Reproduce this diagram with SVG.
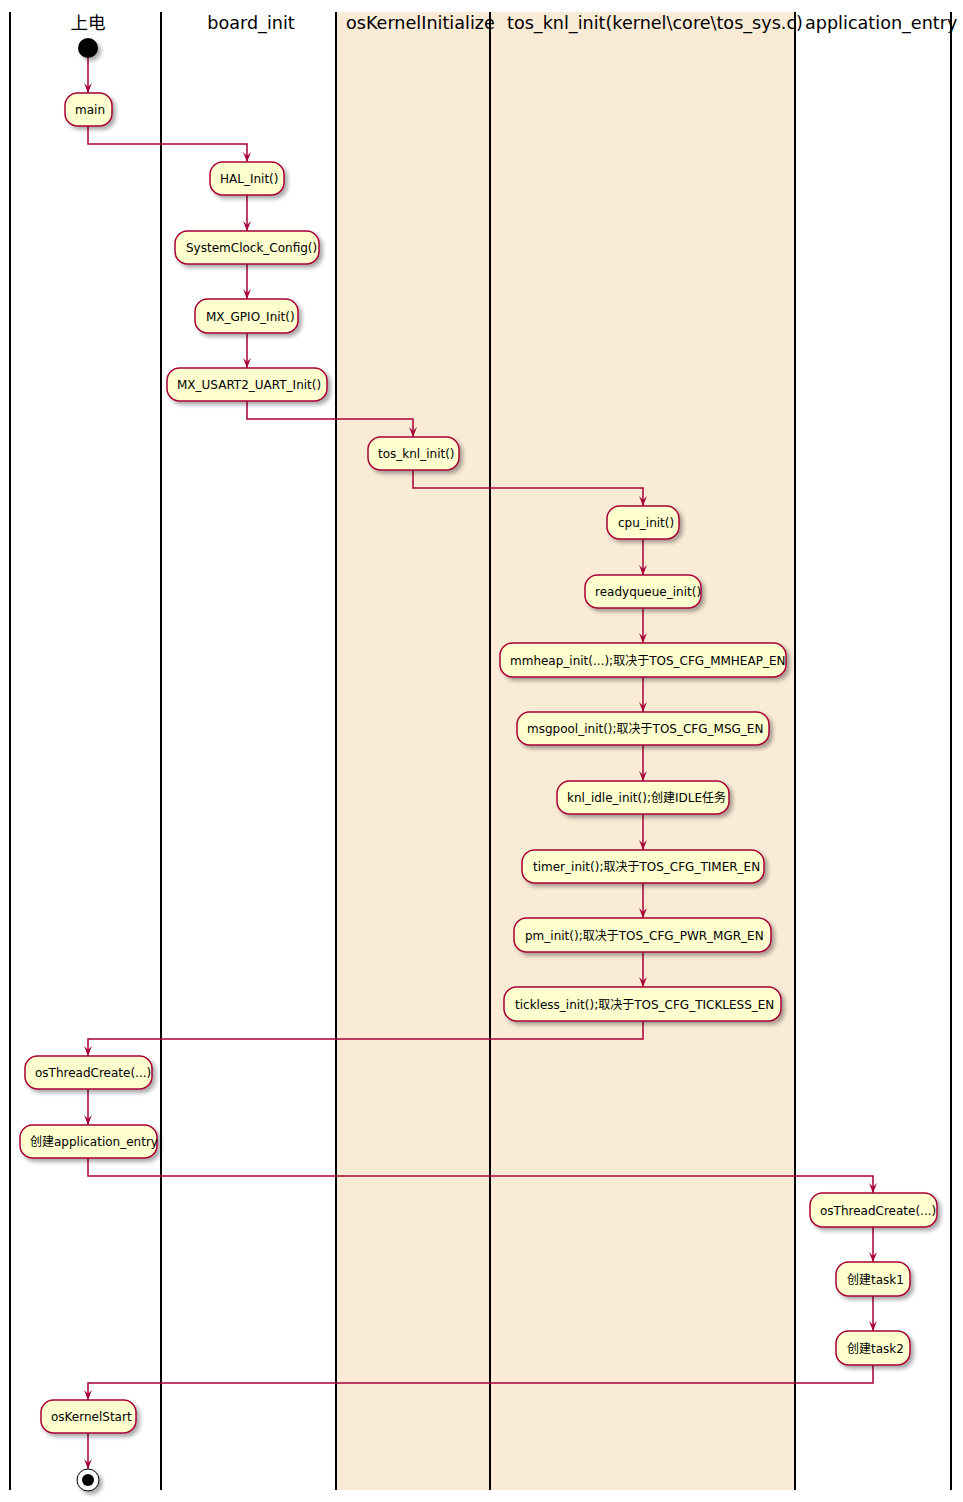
<svg xmlns="http://www.w3.org/2000/svg" width="963" height="1502" viewBox="0 0 963 1502">
<style>
.lane{stroke:#000;stroke-width:2;fill:none}
.title{font-family:"DejaVu Sans","Noto Sans CJK SC",sans-serif;font-size:17.6px;fill:#000}
.box{fill:#FEFECE;stroke:#A80036;stroke-width:1.5;filter:url(#sh)}
.lbl{font-family:"DejaVu Sans","Noto Sans CJK SC",sans-serif;font-size:12px;fill:#000}
.cn{stroke:#A80036;stroke-width:1.5;fill:none}
</style>
<defs>
<filter id="sh" x="-20%" y="-30%" width="150%" height="180%">
<feGaussianBlur in="SourceAlpha" stdDeviation="2"/>
<feOffset dx="3" dy="3" result="b"/>
<feComponentTransfer><feFuncA type="linear" slope="0.35"/></feComponentTransfer>
<feMerge><feMergeNode/><feMergeNode in="SourceGraphic"/></feMerge>
</filter>
<marker id="arr" viewBox="0 0 10 10" refX="10" refY="5" markerWidth="10" markerHeight="10" markerUnits="userSpaceOnUse" orient="auto">
<polygon points="0,1 10,5 0,9 4,5" fill="#A80036"/>
</marker>
</defs>
<rect x="336" y="12" width="459" height="1478" fill="#FAEBD7"/>
<g id="lanes">
<line class="lane" x1="10" y1="12" x2="10" y2="1490"/>
<line class="lane" x1="161" y1="12" x2="161" y2="1490"/>
<line class="lane" x1="336" y1="12" x2="336" y2="1490"/>
<line class="lane" x1="490" y1="12" x2="490" y2="1490"/>
<line class="lane" x1="795" y1="12" x2="795" y2="1490"/>
<line class="lane" x1="951" y1="12" x2="951" y2="1490"/>
<text class="title" x="88" y="29" text-anchor="middle">上电</text>
<text class="title" x="251" y="29" text-anchor="middle">board_init</text>
<text class="title" x="346" y="29">osKernelInitialize</text>
<text class="title" x="507" y="29">tos_knl_init(kernel\core\tos_sys.c)</text>
<text class="title" x="805" y="29">application_entry</text>
</g>
<g id="connectors">
<path class="cn" d="M88,58 V93" marker-end="url(#arr)"/>
<path class="cn" d="M88,126 V144 H247 V162" marker-end="url(#arr)"/>
<path class="cn" d="M247,195 V231" marker-end="url(#arr)"/>
<path class="cn" d="M247,264 V299" marker-end="url(#arr)"/>
<path class="cn" d="M247,333 V368" marker-end="url(#arr)"/>
<path class="cn" d="M247,401 V419 H413 V437" marker-end="url(#arr)"/>
<path class="cn" d="M413,470 V488 H643 V506" marker-end="url(#arr)"/>
<path class="cn" d="M643,539 V575" marker-end="url(#arr)"/>
<path class="cn" d="M643,608 V643" marker-end="url(#arr)"/>
<path class="cn" d="M643,677 V712" marker-end="url(#arr)"/>
<path class="cn" d="M643,745 V781" marker-end="url(#arr)"/>
<path class="cn" d="M643,814 V850" marker-end="url(#arr)"/>
<path class="cn" d="M643,883 V918" marker-end="url(#arr)"/>
<path class="cn" d="M643,952 V987" marker-end="url(#arr)"/>
<path class="cn" d="M643,1021 V1039 H88 V1056" marker-end="url(#arr)"/>
<path class="cn" d="M88,1089 V1125" marker-end="url(#arr)"/>
<path class="cn" d="M88,1158 V1176 H873 V1193" marker-end="url(#arr)"/>
<path class="cn" d="M873,1227 V1262" marker-end="url(#arr)"/>
<path class="cn" d="M873,1296 V1331" marker-end="url(#arr)"/>
<path class="cn" d="M873,1365 V1383 H88 V1400" marker-end="url(#arr)"/>
<path class="cn" d="M88,1433 V1469" marker-end="url(#arr)"/>
</g>
<g id="start"><circle cx="88" cy="48" r="10" fill="#000" filter="url(#sh)"/></g>
<g id="n-main"><rect class="box" x="65" y="93" width="47" height="33" rx="12.5"/><text class="lbl" x="75" y="114">main</text></g>
<g id="n-hal"><rect class="box" x="210" y="162" width="74" height="33" rx="12.5"/><text class="lbl" x="220" y="183">HAL_Init()</text></g>
<g id="n-sysclk"><rect class="box" x="175" y="231" width="144" height="33" rx="12.5"/><text class="lbl" x="186" y="252">SystemClock_Config()</text></g>
<g id="n-gpio"><rect class="box" x="195" y="299" width="103" height="34" rx="12.5"/><text class="lbl" x="206" y="321">MX_GPIO_Init()</text></g>
<g id="n-usart"><rect class="box" x="167" y="368" width="160" height="33" rx="12.5"/><text class="lbl" x="177" y="389">MX_USART2_UART_Init()</text></g>
<g id="n-tosknl"><rect class="box" x="368" y="437" width="91" height="33" rx="12.5"/><text class="lbl" x="378" y="458">tos_knl_init()</text></g>
<g id="n-cpu"><rect class="box" x="607" y="506" width="72" height="33" rx="12.5"/><text class="lbl" x="618" y="527">cpu_init()</text></g>
<g id="n-rq"><rect class="box" x="585" y="575" width="116" height="33" rx="12.5"/><text class="lbl" x="595" y="596">readyqueue_init()</text></g>
<g id="n-mmheap"><rect class="box" x="500" y="643" width="286" height="34" rx="12.5"/><text class="lbl" x="510" y="665">mmheap_init(...);取决于TOS_CFG_MMHEAP_EN</text></g>
<g id="n-msgpool"><rect class="box" x="517" y="712" width="252" height="33" rx="12.5"/><text class="lbl" x="527" y="733">msgpool_init();取决于TOS_CFG_MSG_EN</text></g>
<g id="n-idle"><rect class="box" x="557" y="781" width="172" height="33" rx="12.5"/><text class="lbl" x="567" y="802">knl_idle_init();创建IDLE任务</text></g>
<g id="n-timer"><rect class="box" x="522" y="850" width="242" height="33" rx="12.5"/><text class="lbl" x="533" y="871">timer_init();取决于TOS_CFG_TIMER_EN</text></g>
<g id="n-pm"><rect class="box" x="514" y="918" width="257" height="34" rx="12.5"/><text class="lbl" x="525" y="940">pm_init();取决于TOS_CFG_PWR_MGR_EN</text></g>
<g id="n-tickless"><rect class="box" x="504" y="987" width="277" height="34" rx="12.5"/><text class="lbl" x="515" y="1009">tickless_init();取决于TOS_CFG_TICKLESS_EN</text></g>
<g id="n-otc1"><rect class="box" x="25" y="1056" width="127" height="33" rx="12.5"/><text class="lbl" x="35" y="1077">osThreadCreate(...)</text></g>
<g id="n-app"><rect class="box" x="20" y="1125" width="137" height="33" rx="12.5"/><text class="lbl" x="30" y="1146">创建application_entry</text></g>
<g id="n-otc2"><rect class="box" x="810" y="1193" width="127" height="34" rx="12.5"/><text class="lbl" x="820" y="1215">osThreadCreate(...)</text></g>
<g id="n-task1"><rect class="box" x="836" y="1262" width="74" height="34" rx="12.5"/><text class="lbl" x="847" y="1284">创建task1</text></g>
<g id="n-task2"><rect class="box" x="836" y="1331" width="74" height="34" rx="12.5"/><text class="lbl" x="847" y="1353">创建task2</text></g>
<g id="n-start"><rect class="box" x="41" y="1400" width="95" height="33" rx="12.5"/><text class="lbl" x="51" y="1421">osKernelStart</text></g>
<g id="end"><circle cx="88" cy="1480" r="11" fill="#fff" stroke="#000" stroke-width="1" filter="url(#sh)"/><circle cx="88" cy="1480" r="6" fill="#000"/></g>
</svg>
